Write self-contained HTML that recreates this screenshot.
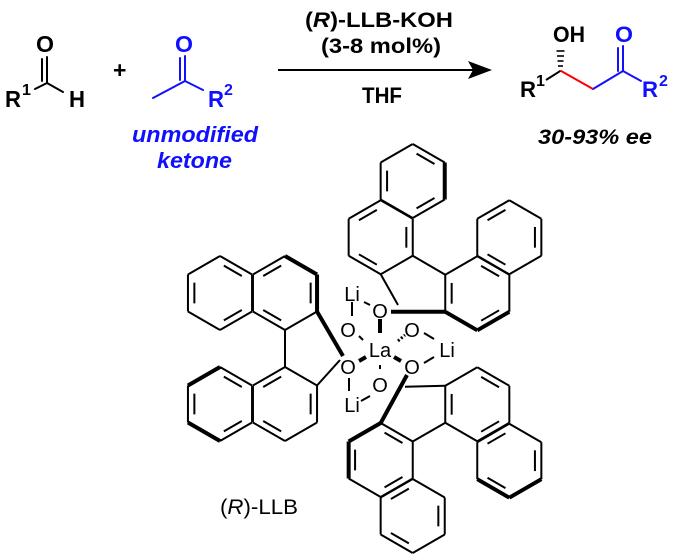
<!DOCTYPE html>
<html><head><meta charset="utf-8"><style>
html,body{margin:0;padding:0;background:#fff;width:680px;height:560px;overflow:hidden}
svg text{font-family:"Liberation Sans",Arial,sans-serif}
</style></head><body>
<svg id="s" width="680" height="560" viewBox="0 0 680 560" xmlns="http://www.w3.org/2000/svg">
<g stroke="#000" stroke-width="2" fill="none" stroke-linecap="round">
<line x1="47" y1="57" x2="47" y2="83"/><line x1="42" y1="59" x2="42" y2="81"/>
<line x1="47" y1="83" x2="35" y2="89"/><line x1="47" y1="83" x2="63" y2="92"/>
</g>
<g stroke="#1010ff" stroke-width="2" fill="none" stroke-linecap="round">
<line x1="153" y1="98" x2="185" y2="81"/><line x1="185" y1="81" x2="203" y2="90"/>
<line x1="185" y1="56" x2="185" y2="81"/><line x1="180" y1="58" x2="180" y2="80"/>
<line x1="593" y1="89" x2="623" y2="71"/><line x1="623" y1="71" x2="641" y2="81"/>
<line x1="623" y1="46" x2="623" y2="71"/><line x1="618" y1="48" x2="618" y2="71"/>
</g>
<g stroke="#000" stroke-width="2" fill="none">
<line x1="278" y1="70" x2="475" y2="70"/>
<line x1="560.7" y1="70.7" x2="546" y2="80"/>
</g>
<polygon points="492,70 468,61 473,70 468,79" fill="#000"/>
<line x1="560.7" y1="70.7" x2="593" y2="89" stroke="#f00" stroke-width="2"/>
<g stroke="#000" stroke-width="1.6">
<line x1="558" y1="66" x2="563" y2="66"/><line x1="557.5" y1="61" x2="563.5" y2="61"/><line x1="557" y1="56" x2="564" y2="56"/><line x1="556.5" y1="51" x2="564.5" y2="51"/>
</g>
<g font-weight="bold" font-size="23" fill="#000">
<text x="5" y="107" textLength="16" lengthAdjust="spacingAndGlyphs">R</text><text x="22" y="95" font-size="16">1</text>
<text x="36" y="52" textLength="18" lengthAdjust="spacingAndGlyphs">O</text>
<text x="69" y="107" textLength="16" lengthAdjust="spacingAndGlyphs">H</text>
<text x="113" y="78">+</text>
<text x="305" y="27" font-size="21" textLength="148" lengthAdjust="spacingAndGlyphs">(<tspan font-style="italic">R</tspan>)-LLB-KOH</text>
<text x="321" y="53" font-size="21" textLength="120" lengthAdjust="spacingAndGlyphs">(3-8 mol%)</text>
<text x="362" y="103" font-size="22" textLength="40" lengthAdjust="spacingAndGlyphs">THF</text>
<text x="520" y="97" font-size="22" textLength="16" lengthAdjust="spacingAndGlyphs">R</text><text x="536" y="86" font-size="16">1</text>
<text x="553" y="42" font-size="22" textLength="32" lengthAdjust="spacingAndGlyphs">OH</text>
<text x="538" y="144" font-size="21" font-style="italic" textLength="114" lengthAdjust="spacingAndGlyphs">30-93% ee</text>
</g>
<g font-weight="bold" font-size="23" fill="#1010ff">
<text x="175" y="52" textLength="18" lengthAdjust="spacingAndGlyphs">O</text>
<text x="208" y="107" textLength="16" lengthAdjust="spacingAndGlyphs">R</text><text x="224" y="95" font-size="16">2</text>
<text x="615" y="42" font-size="22" textLength="18" lengthAdjust="spacingAndGlyphs">O</text>
<text x="642" y="97" font-size="22" textLength="16" lengthAdjust="spacingAndGlyphs">R</text><text x="659" y="86" font-size="16">2</text>
<text x="132" y="142" font-style="italic" font-size="22" textLength="126" lengthAdjust="spacingAndGlyphs">unmodified</text>
<text x="157" y="168" font-style="italic" font-size="22" textLength="75" lengthAdjust="spacingAndGlyphs">ketone</text>
</g>
<g id="rings" stroke="#000" stroke-width="2" fill="none" stroke-linejoin="round"></g>
<g stroke="#000" stroke-width="2" fill="none">
<line x1="285" y1="330" x2="285" y2="367"/>
<line x1="317" y1="311.5" x2="343" y2="356" stroke-width="4"/>
<line x1="317" y1="385.5" x2="340" y2="360"/>
<line x1="412.7" y1="255.8" x2="445.3" y2="274.8"/>
<line x1="380.7" y1="274.3" x2="398" y2="305"/>
<line x1="445.3" y1="311.8" x2="391" y2="311.7" stroke-width="4"/>
<line x1="412.7" y1="441.5" x2="445.3" y2="422.8"/>
<line x1="445.3" y1="385.8" x2="405" y2="386.7"/>
<line x1="380.7" y1="423" x2="407" y2="375" stroke-width="4"/>
<line x1="352" y1="302" x2="352" y2="316"/>
<line x1="364" y1="302" x2="370" y2="305"/>
<line x1="349" y1="378" x2="349" y2="391"/>
<line x1="361" y1="401" x2="370" y2="396"/>
<line x1="424" y1="333" x2="434" y2="339"/>
<line x1="424" y1="363" x2="434" y2="357"/>
<line x1="380" y1="319" x2="380" y2="333" stroke-width="4"/>
<line x1="359" y1="336" x2="363" y2="340"/>
<line x1="398" y1="341" x2="405" y2="335" stroke-dasharray="2 2" stroke-width="3"/>
<line x1="359" y1="361" x2="366" y2="357" stroke-width="4"/>
<line x1="394" y1="357" x2="401" y2="361" stroke-width="4"/>
<line x1="380" y1="365" x2="380" y2="369"/>
</g>
<g font-size="20" fill="#000">
<text x="380" y="318" text-anchor="middle">O</text>
<text x="348" y="337" text-anchor="middle">O</text>
<text x="412" y="337" text-anchor="middle">O</text>
<text x="380" y="357" text-anchor="middle">La</text>
<text x="348" y="374" text-anchor="middle">O</text>
<text x="412" y="374" text-anchor="middle">O</text>
<text x="380" y="392" text-anchor="middle">O</text>
<text x="352" y="301" text-anchor="middle">Li</text>
<text x="447" y="357" text-anchor="middle">Li</text>
<text x="352" y="412" text-anchor="middle">Li</text>
<text x="220" y="514" font-size="21" textLength="78" lengthAdjust="spacingAndGlyphs">(<tspan font-style="italic">R</tspan>)-LLB</text>
</g>
</svg>
<script>
(function(){
var s=37,g=document.getElementById('rings'),ns='http://www.w3.org/2000/svg';
function v(cx,cy,k){var a=(-90+60*k)*Math.PI/180;return [cx+s*Math.cos(a),cy+s*Math.sin(a)];}
function L(a,b,w){var l=document.createElementNS(ns,'line');l.setAttribute('x1',a[0]);l.setAttribute('y1',a[1]);l.setAttribute('x2',b[0]);l.setAttribute('y2',b[1]);if(w)l.setAttribute('stroke-width',w);g.appendChild(l);}
function ring(cx,cy,dbl,bold){
 for(var k=0;k<6;k++){var a=v(cx,cy,k),b=v(cx,cy,k+1);L(a,b,bold.indexOf(k)>=0?4:0);
  if(dbl.indexOf(k)>=0){var f=0.8;var ia=[cx+(a[0]-cx)*f,cy+(a[1]-cy)*f],ib=[cx+(b[0]-cx)*f,cy+(b[1]-cy)*f];
   var m=0.15;L([ia[0]+(ib[0]-ia[0])*m,ia[1]+(ib[1]-ia[1])*m],[ib[0]+(ia[0]-ib[0])*m,ib[1]+(ia[1]-ib[1])*m]);}}
}
ring(220,293,[0,2,4],[]);ring(285,293,[1,3,5],[0,1]);
ring(220,404,[0,2,4],[5,3]);ring(285,404,[1,3,5],[]);
ring(412.7,181,[0,2,4],[1]);ring(380.7,237.3,[1,3,5],[]);
ring(509.3,237.3,[1,3,5],[]);ring(477.3,293.3,[0,2,4],[2,3]);
ring(477.3,404.3,[0,2,4],[]);ring(509.3,460.7,[1,3,5],[3,2]);
ring(380.7,460,[0,2,4],[4,5]);ring(412.7,516,[1,3,5],[]);
})();
</script>
</body></html>
